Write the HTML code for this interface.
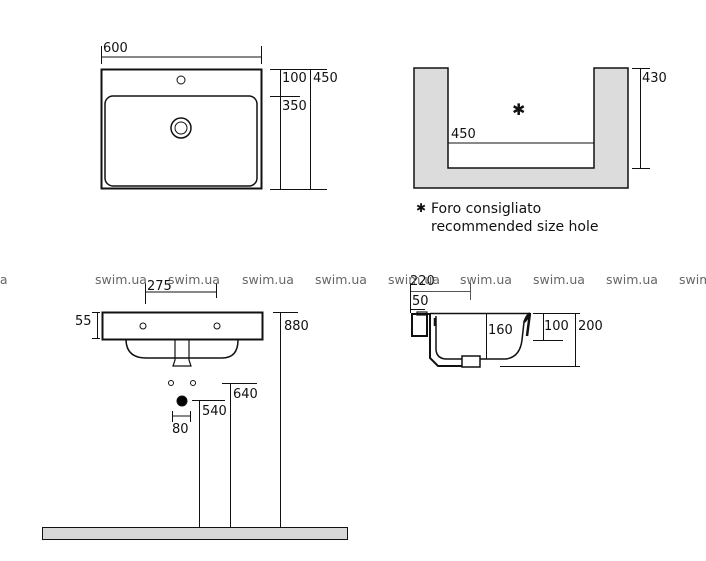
<!DOCTYPE html>
<html><head><meta charset="utf-8"><style>
html,body{margin:0;padding:0;background:#fff;}
svg{display:block;}
text{font-family:"DejaVu Sans","Liberation Sans",sans-serif;fill:#111;}
.w{fill:#666;font-size:12.5px;}
</style></head><body>
<svg width="706" height="561" viewBox="0 0 706 561" xmlns="http://www.w3.org/2000/svg">
<g stroke="#111" fill="none" stroke-width="1">
<!-- top view -->
<rect x="101.5" y="69.5" width="160" height="119" stroke-width="2"/>
<rect x="105" y="96" width="152" height="90" rx="8" stroke-width="1.5"/>
<circle cx="181" cy="80" r="4"/>
<circle cx="181" cy="128" r="10" stroke-width="1.5"/>
<circle cx="181" cy="128" r="6"/>
<line x1="101" y1="57" x2="262" y2="57"/>
<line x1="101.5" y1="46" x2="101.5" y2="64"/>
<line x1="261.5" y1="46" x2="261.5" y2="64"/>
<line x1="280.5" y1="69" x2="280.5" y2="189"/>
<line x1="310.5" y1="69" x2="310.5" y2="189"/>
<line x1="270" y1="69.5" x2="327" y2="69.5"/>
<line x1="270" y1="96.5" x2="300" y2="96.5"/>
<line x1="270" y1="189.5" x2="327" y2="189.5"/>
<!-- U shape -->
<path d="M414,68 H448 V168 H594 V68 H628 V188 H414 Z" fill="#dcdcdc" stroke-width="1.5"/>
<line x1="448" y1="143" x2="594" y2="143"/>
<line x1="640.5" y1="68" x2="640.5" y2="168"/>
<line x1="632" y1="68.5" x2="650" y2="68.5"/>
<line x1="632" y1="168.5" x2="650" y2="168.5"/>
<!-- front view -->
<rect x="102.5" y="312.5" width="160" height="27" stroke-width="2"/>
<path d="M126,339 Q126,358 146,358 H222 Q238,358 238,340" stroke-width="1.5"/>
<path d="M175,339 V360 L173,366 H191 L189,360 V339" stroke-width="1.2"/>
<circle cx="143" cy="326" r="3"/>
<circle cx="217" cy="326" r="3"/>
<line x1="145" y1="292" x2="217" y2="292"/>
<line x1="145.5" y1="283" x2="145.5" y2="304"/>
<line x1="216.5" y1="283" x2="216.5" y2="298"/>
<line x1="97.5" y1="312" x2="97.5" y2="339"/>
<line x1="92" y1="312.5" x2="100" y2="312.5"/>
<line x1="92" y1="338.5" x2="100" y2="338.5"/>
<line x1="280.5" y1="312" x2="280.5" y2="527"/>
<line x1="273" y1="312.5" x2="298" y2="312.5"/>
<circle cx="171" cy="383" r="2.5"/>
<circle cx="193" cy="383" r="2.5"/>
<circle cx="182" cy="401" r="5" fill="#000"/>
<line x1="172" y1="416" x2="191" y2="416"/>
<line x1="172.5" y1="411" x2="172.5" y2="422"/>
<line x1="190.5" y1="411" x2="190.5" y2="422"/>
<line x1="199.5" y1="400" x2="199.5" y2="527"/>
<line x1="192" y1="400.5" x2="225" y2="400.5"/>
<line x1="230.5" y1="383" x2="230.5" y2="527"/>
<line x1="222" y1="383.5" x2="257" y2="383.5"/>
<rect x="42.5" y="527.5" width="305" height="12" fill="#d8d8d8"/>
<!-- side view -->
<line x1="410" y1="291.5" x2="470" y2="291.5" stroke="#555"/>
<line x1="470.5" y1="283" x2="470.5" y2="300" stroke="#555"/>
<line x1="410.5" y1="283" x2="410.5" y2="313"/>
<line x1="410" y1="309.5" x2="425" y2="309.5"/>
<rect x="412" y="314" width="15" height="22" stroke-width="2"/>
<rect x="417" y="312" width="10" height="3" stroke-width="1.2"/>
<path d="M427,314 H430 V358 L438,366 H462" stroke-width="2"/>
<line x1="430" y1="313.5" x2="530" y2="313.5" stroke-width="1.5"/>
<path d="M436,316 V350 Q437,359 447,359 H462" stroke-width="1.5"/>
<line x1="435" y1="318" x2="435" y2="326" stroke-width="2.5"/>
<rect x="462" y="356" width="18" height="11" stroke-width="1.5"/>
<path d="M480,359 H506 Q520,357 522,340 L524,322 Q526,315 530,313" stroke-width="1.5"/>
<path d="M524,322 Q528,318 530,313 L527,336" stroke-width="2.5"/>
<line x1="486.5" y1="313" x2="486.5" y2="359"/>
<line x1="543.5" y1="313" x2="543.5" y2="340"/>
<line x1="575.5" y1="313" x2="575.5" y2="367"/>
<line x1="533" y1="313.5" x2="580" y2="313.5"/>
<line x1="533" y1="340.5" x2="563" y2="340.5"/>
<line x1="500" y1="366.5" x2="580" y2="366.5"/>
</g>
<g font-size="13">
<text x="103" y="52">600</text>
<text x="282" y="82">100</text>
<text x="313" y="82">450</text>
<text x="282" y="110">350</text>
<text x="642" y="82">430</text>
<text x="451" y="138">450</text>
<text x="512" y="115" font-size="16">✱</text>
<text x="416" y="212" font-size="12">✱</text>
<text x="431" y="213" font-size="14">Foro consigliato</text>
<text x="431" y="231" font-size="14">recommended size hole</text>
<text x="75" y="325">55</text>
<text x="147" y="290" fill="#555">275</text>
<text x="284" y="330">880</text>
<text x="233" y="398">640</text>
<text x="202" y="415">540</text>
<text x="172" y="433">80</text>
<text x="410" y="285" fill="#777">220</text>
<text x="412" y="305">50</text>
<text x="488" y="334">160</text>
<text x="544" y="330">100</text>
<text x="578" y="330">200</text>
</g>
<g class="w">
<text x="-8" y="284" class="w">ua</text>
<text x="95" y="284" class="w">swim.ua</text>
<text x="168" y="284" class="w">swim.ua</text>
<text x="242" y="284" class="w">swim.ua</text>
<text x="315" y="284" class="w">swim.ua</text>
<text x="388" y="284" class="w">swim.ua</text>
<text x="460" y="284" class="w">swim.ua</text>
<text x="533" y="284" class="w">swim.ua</text>
<text x="606" y="284" class="w">swim.ua</text>
<text x="679" y="284" class="w">swim.ua</text>
</g>
</svg>
</body></html>
